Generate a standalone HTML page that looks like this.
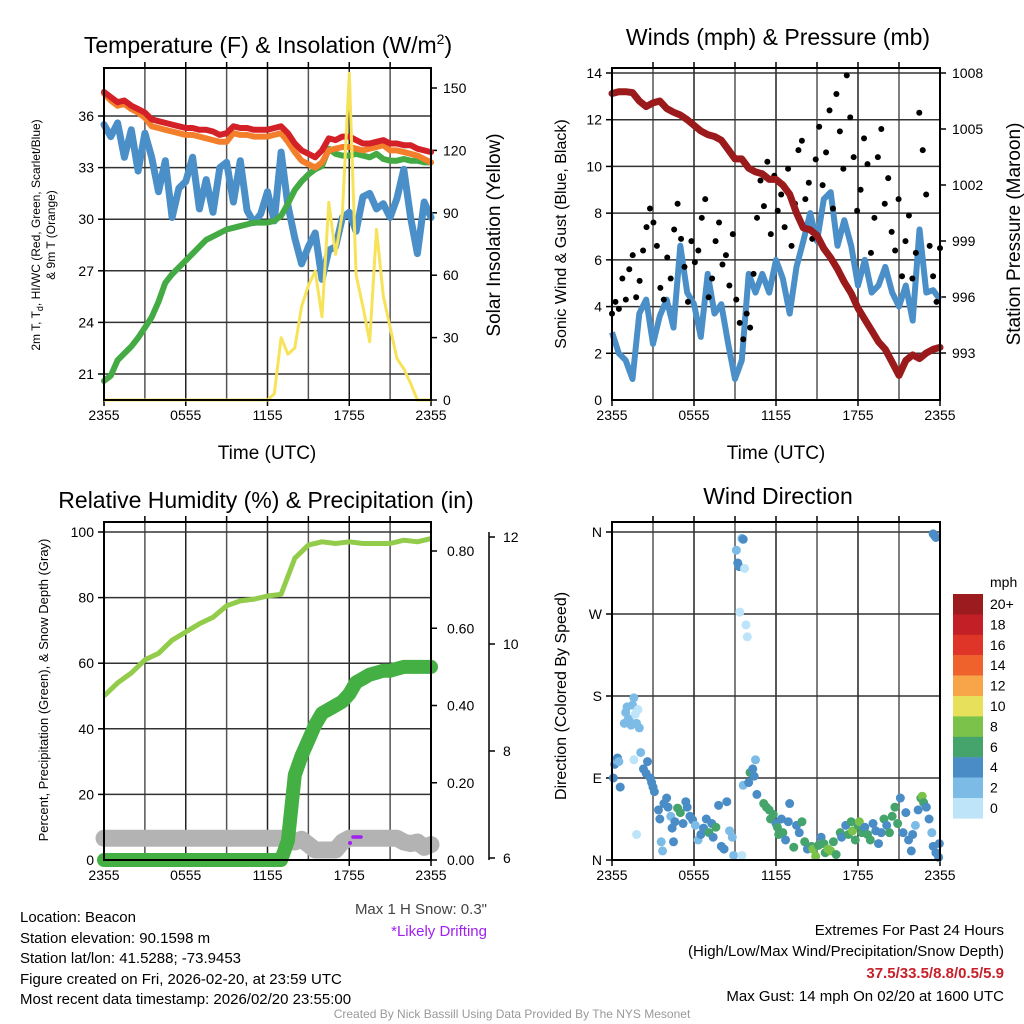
<!DOCTYPE html>
<html><head><meta charset="utf-8"><style>
html,body{margin:0;padding:0;background:#fff;}
svg{display:block;font-family:"Liberation Sans",Arial,sans-serif;}
</style></head><body>
<svg id="fig" width="1024" height="1024" viewBox="0 0 1024 1024" xmlns="http://www.w3.org/2000/svg">
<rect width="1024" height="1024" fill="#fff"/>
<g id="p1"></g>
<g id="p2"></g>
<g id="p3"></g>
<g id="p4"></g>
<g id="txt" font-size="15" fill="#000">
<text x="20" y="922">Location: Beacon</text>
<text x="20" y="943">Station elevation: 90.1598 m</text>
<text x="20" y="963">Station lat/lon: 41.5288; -73.9453</text>
<text x="20" y="984">Figure created on Fri, 2026-02-20, at 23:59 UTC</text>
<text x="20" y="1004">Most recent data timestamp: 2026/02/20 23:55:00</text>
<text x="487" y="914" text-anchor="end" fill="#444">Max 1 H Snow: 0.3"</text>
<text x="487" y="936" text-anchor="end" fill="#a020f0">*Likely Drifting</text>
<text x="1004" y="935" text-anchor="end">Extremes For Past 24 Hours</text>
<text x="1004" y="956" text-anchor="end">(High/Low/Max Wind/Precipitation/Snow Depth)</text>
<text x="1004" y="978" text-anchor="end" fill="#c8202a" font-weight="bold">37.5/33.5/8.8/0.5/5.9</text>
<text x="1004" y="1001" text-anchor="end">Max Gust: 14 mph On 02/20 at 1600 UTC</text>
<text x="512" y="1018" text-anchor="middle" fill="#999" font-size="12">Created By Nick Bassill Using Data Provided By The NYS Mesonet</text>
</g>
</svg>
<script>
// ---------- data (half-hourly, 2355 -> 2355) ----------
const xTickLabels = ["2355","0555","1155","1755","2355"];
const heatIndex = [37.4,37.1,36.8,36.9,36.6,36.4,36.2,35.8,35.7,35.6,35.5,35.4,35.3,35.3,35.2,35.2,35.1,34.9,35.0,35.4,35.3,35.3,35.2,35.2,35.2,35.3,35.4,35.0,34.4,34.0,33.8,33.6,34.0,34.7,34.6,34.8,34.8,34.6,34.4,34.4,34.5,34.6,34.4,34.4,34.3,34.3,34.1,34.0,33.9];
const temp9m = [37.3,36.9,36.6,36.7,36.4,36.2,35.9,35.4,35.3,35.2,35.1,35.0,34.9,34.9,34.8,34.7,34.6,34.5,34.5,35.0,34.9,34.9,34.8,34.8,34.8,34.9,35.0,34.5,33.9,33.4,33.2,33.0,33.3,34.0,34.1,34.2,34.2,34.1,34.0,34.1,34.2,34.3,34.0,34.0,33.9,33.8,33.7,33.5,33.3];
const dewpoint = [20.6,20.9,21.8,22.2,22.6,23.1,23.7,24.3,25.2,26.3,26.8,27.2,27.6,28.0,28.4,28.8,29.0,29.2,29.4,29.5,29.6,29.7,29.8,29.8,29.8,29.9,30.2,30.9,31.7,32.2,32.6,32.9,33.1,34.1,33.8,33.7,33.7,33.8,33.7,33.6,33.8,33.5,33.4,33.4,33.5,33.4,33.4,33.3,33.3];
const windChill = [35.5,34.8,35.6,33.6,35.2,32.8,35.0,33.6,31.6,33.4,30.1,31.8,32.2,33.6,30.6,32.3,30.4,33.0,33.3,31.0,33.4,30.5,29.8,30.3,31.6,29.9,33.9,30.8,28.9,27.4,28.4,29.2,26.5,28.2,28.4,30.1,30.4,29.3,31.3,31.5,30.6,30.9,30.1,31.2,32.9,30.1,28.0,31.0,30.1];
const insolation = [0,0,0,0,0,0,0,0,0,0,0,0,0,0,0,0,0,0,0,0,0,0,0,0,0,3,30,22,25,45,55,62,40,95,70,90,157,60,45,28,82,50,35,20,15,8,0,0,0];
const windSpeed = [2.9,2.0,1.7,0.9,3.7,4.3,2.4,3.6,4.3,3.1,6.6,4.6,4.1,2.7,5.4,3.7,4.1,2.4,0.9,1.7,5.4,4.6,5.4,4.6,6.0,5.2,3.7,5.7,6.8,8.0,6.8,8.6,8.9,6.6,7.7,6.6,4.9,6.0,4.6,4.9,5.7,4.6,4.0,4.9,3.4,7.3,4.6,4.7,4.3];
const pressure = [1006.9,1007.0,1007.0,1006.95,1006.5,1006.2,1006.4,1006.5,1006.1,1005.9,1005.75,1005.5,1005.2,1004.9,1004.7,1004.6,1004.4,1003.9,1003.4,1003.4,1002.9,1002.7,1002.6,1002.3,1002.3,1002.0,1001.5,1000.5,999.7,999.6,999.3,998.6,998.1,997.5,996.8,996.2,995.4,994.8,994.2,993.6,993.2,992.5,991.8,992.6,992.9,992.7,993.0,993.2,993.3];
// quarter-hourly gusts
const gusts = [3.7,4.2,3.9,5.2,4.3,5.6,6.2,4.4,5.1,6.4,7.4,8.2,7.6,6.6,4.8,4.3,6.1,5.2,7.3,8.4,6.9,5.7,4.2,6.8,5.9,6.4,7.8,8.6,4.4,5.2,6.8,7.6,5.8,6.2,4.9,7.1,4.3,3.3,2.6,3.7,3.1,5.4,7.8,9.4,8.3,10.2,7.1,9.6,8.1,8.8,7.4,9.9,6.6,8.4,10.7,11.1,8.6,9.3,6.9,10.3,11.7,9.2,10.6,12.4,8.2,13.1,11.5,9.9,13.9,12.1,10.4,8.1,9.0,11.2,10.1,6.3,7.8,10.4,11.6,8.4,9.5,7.2,6.4,8.6,5.3,6.8,7.9,5.2,6.3,12.3,10.7,8.8,6.6,5.3,4.2,6.5];
const humidity = [50,54,57,61,63,67,69.5,72,74,77.5,79,79.5,80.5,81,92,96,97,96.5,97,96.5,96.5,96.5,97.5,97,98]; // hourly
const precip = [0,0,0,0,0,0,0,0,0,0,0,0,0,0,0,0,0,0,0,0,0,0,0,0,0,0,0,0.05,0.22,0.27,0.31,0.35,0.38,0.39,0.40,0.41,0.43,0.46,0.47,0.48,0.485,0.49,0.49,0.495,0.50,0.50,0.50,0.50,0.50];
const snowDepth = [6.37,6.37,6.37,6.37,6.37,6.37,6.37,6.37,6.37,6.37,6.37,6.37,6.37,6.37,6.37,6.37,6.37,6.37,6.37,6.37,6.37,6.37,6.37,6.37,6.37,6.37,6.37,6.37,6.3,6.35,6.25,6.15,6.15,6.15,6.15,6.3,6.37,6.37,6.37,6.37,6.37,6.37,6.37,6.37,6.3,6.27,6.3,6.2,6.25];
const dirHour = [0.1,0.2,0.3,0.4,0.5,0.6,0.9,1.0,1.1,1.2,1.3,1.4,1.5,1.6,1.7,1.8,1.9,2.0,1.8,1.6,2.1,2.3,2.5,2.6,2.8,2.9,3.0,3.1,3.4,3.5,3.6,3.7,3.8,4.0,4.1,4.3,4.4,4.5,4.6,4.8,5.0,5.2,5.4,5.5,5.7,5.9,6.1,6.3,6.5,6.7,6.9,7.1,7.3,7.4,7.6,7.8,8.0,8.2,8.4,8.6,8.8,8.9,9.1,9.2,9.3,9.35,9.5,9.6,9.7,9.8,9.9,9.5,9.6,10.0,10.1,10.3,10.4,10.5,10.6,11.1,11.3,11.5,11.6,11.8,12.0,12.1,12.2,12.4,12.5,12.7,12.9,13.0,13.3,13.5,13.7,13.9,14.1,14.3,14.6,14.7,14.9,15.1,15.3,15.5,15.6,15.8,16.0,16.2,16.4,16.7,16.8,17.1,17.3,17.5,17.6,17.8,18.0,18.1,18.3,18.5,18.7,18.9,19.1,19.3,19.5,19.7,19.9,20.1,20.3,20.5,20.7,20.9,21.1,21.3,21.5,21.7,21.9,22.0,22.2,22.4,22.6,22.7,22.8,23.0,23.2,23.4,23.5,23.7,23.9,23.95,23.5,23.6,23.7];
const dirDeg = [90,105,110,112,108,80,150,162,168,155,152,148,170,178,160,150,165,145,28,110,118,100,95,108,90,85,80,75,55,45,20,10,62,68,58,48,35,20,42,57,52,40,64,58,48,44,38,22,28,35,45,30,40,25,36,60,15,12,64,32,25,5,340,326,322,272,353,352,320,258,245,5,82,85,96,100,92,110,72,62,58,55,45,50,40,36,28,45,30,22,42,62,14,38,30,42,20,12,15,12,4,16,25,18,8,12,10,20,6,30,25,38,28,42,32,22,38,42,30,36,28,22,40,32,18,30,45,38,30,48,58,40,68,30,52,22,10,28,38,55,68,70,63,58,45,30,15,8,3,18,358,356,354];
const dirSpd = [4,4,3,4,3,4,3,3,2,3,3,3,2,3,1,3,1,3,1,1,3,5,5,4,5,4,5,5,4,5,3,2,4,5,4,3,5,5,4,6,6,5,5,4,5,5,3,2,4,5,4,6,5,4,6,5,5,4,4,3,3,2,3,4,4,1,3,4,1,1,1,1,2,4,6,4,4,3,4,6,6,6,7,6,4,6,7,4,6,4,4,5,6,4,4,7,6,4,6,9,8,7,4,6,7,8,9,6,7,6,5,4,6,7,8,6,7,9,7,5,6,7,5,5,5,4,6,4,6,7,7,6,5,4,5,4,4,5,2,4,6,9,7,4,4,2,4,4,4,4,4,4,4];
const speedBinLabels = ["20+","18","16","14","12","10","8","6","4","2","0"];
const speedBinColors = ["#9b1b1e","#c21f26","#df3428","#f0622c","#f8a54a","#e6e05a","#7bc24a","#44a46c","#4a8dc6","#7cbbe6","#bde4f8"];

// ---------- helpers ----------
const NS="http://www.w3.org/2000/svg";
function mk(parent,tag,attrs,text){const e=document.createElementNS(NS,tag);for(const k in attrs)e.setAttribute(k,attrs[k]);if(text!==undefined)e.textContent=text;parent.appendChild(e);return e;}
function lin(d0,d1,r0,r1){return v=>r0+(v-d0)*(r1-r0)/(d1-d0);}
function poly(arr,xf,yf){return arr.map((v,i)=>xf(i).toFixed(1)+","+yf(v).toFixed(1)).join(" ");}

function frame(g,L,R,T,B,hVals,yf,leftLabels){
  for(let k=1;k<8;k++){const x=L+(R-L)*k/8;
    const ln=mk(g,"line",{x1:x,x2:x,y1:T,y2:B,stroke:k%2?"#555":"#222","stroke-width":1.5});
    
    
    mk(g,"line",{x1:x,x2:x,y1:T-6,y2:T,stroke:"#000","stroke-width":1.5});}
  hVals.forEach((v,i)=>{const y=yf(v);
    const ln=mk(g,"line",{x1:L,x2:R,y1:y,y2:y,stroke:"#333","stroke-width":1.5});
    
    
    mk(g,"line",{x1:L-6,x2:L,y1:y,y2:y,stroke:"#000","stroke-width":1.5});
    const t=mk(g,"text",{x:L-10,y:y+5,"text-anchor":"end","font-size":14},leftLabels[i]);
    
    });
  xTickLabels.forEach((s,i)=>{const x=L+(R-L)*i/4;
    mk(g,"line",{x1:x,x2:x,y1:B,y2:B+6,stroke:"#000","stroke-width":1.5});
    const t=mk(g,"text",{x:x,y:B+20,"text-anchor":"middle","font-size":14},s);
    
    });
}
function box(g,L,R,T,B){const r=mk(g,"rect",{x:L,y:T,width:R-L,height:B-T,fill:"none",stroke:"#000","stroke-width":2});
  
  }
function rightAxis(g,X,vals,yf,labels,off){vals.forEach((v,i)=>{const y=yf(v);
  mk(g,"line",{x1:X,x2:X+6,y1:y,y2:y,stroke:"#000","stroke-width":1.5});
  const t=mk(g,"text",{x:X+(off||12),y:y+5,"font-size":14},labels[i]);
  
  });}
function vlabel(g,x,y,size,txt,name){const t=mk(g,"text",{x:0,y:0,"font-size":size,"text-anchor":"middle",transform:`translate(${x},${y}) rotate(-90)`},txt);
  
  return t;}
function title(g,x,y,txt,name){const t=mk(g,"text",{x:x,y:y,"font-size":23,"text-anchor":"middle"},txt);
  
  return t;}

// ---------- Panel 1 ----------
(function(){
 const g=document.getElementById("p1"),L=104,R=431,T=68,B=400;
 const x=i=>L+(R-L)*i/48, y=lin(36,21,116,374), yr=lin(0,150,400,88);
 frame(g,L,R,T,B,[36,33,30,27,24,21],y,["36","33","30","27","24","21"]);
 rightAxis(g,R,[0,30,60,90,120,150],yr,["0","30","60","90","120","150"]);
 [[windChill,"#4a8fc8",7,"windchill-line"],[dewpoint,"#44aa44",6,"dewpoint-line"],[temp9m,"#f47f2a",6,"temp-9m-line"],[heatIndex,"#d42027",6,"temp-2m-line"]].forEach(s=>{
   const p=mk(g,"polyline",{points:poly(s[0],x,y),fill:"none",stroke:s[1],"stroke-width":s[2],"stroke-linejoin":"round","stroke-linecap":"round"});
   
   });
 const p=mk(g,"polyline",{points:poly(insolation,x,yr),fill:"none",stroke:"#f7e35a","stroke-width":3,"stroke-linejoin":"round"});
 
 
 box(g,L,R,T,B);
 const t=title(g,268,53,"Temperature (F) & Insolation (W/m","chart-title-temperature");
 mk(t,"tspan",{dy:-9,"font-size":14},"2");mk(t,"tspan",{dy:9},")");
 const a=title(g,267,459,"Time (UTC)","x-axis-title");a.setAttribute("font-size",19);
 const l1=vlabel(g,40,235,12,"2m T, T","y-axis-title-left");
 mk(l1,"tspan",{"font-size":9,dy:3},"d");mk(l1,"tspan",{dy:-3},", HI/WC (Red, Green, Scarlet/Blue)");
 vlabel(g,55,235,12,"& 9m T (Orange)","y-axis-title-left-2");
 vlabel(g,500,235,19,"Solar Insolation (Yellow)","y-axis-title-right");
})();

// ---------- Panel 2 ----------
(function(){
 const g=document.getElementById("p2"),L=612,R=940,T=68,B=400;
 const x=i=>L+(R-L)*i/48, xq=i=>L+(R-L)*i/95, y=lin(0,14,400,73), yp=lin(993,1008,353,73);
 frame(g,L,R,T,B,[2,4,6,8,10,12,14],y,["2","4","6","8","10","12","14"]);
 const z=mk(g,"text",{x:L-10,y:405,"text-anchor":"end","font-size":14},"0");
 
 
 rightAxis(g,R,[993,996,999,1002,1005,1008],yp,["993","996","999","1002","1005","1008"]);
 const w=mk(g,"polyline",{points:poly(windSpeed,x,y),fill:"none",stroke:"#4a8fc8","stroke-width":6,"stroke-linejoin":"round"});
 
 
 gusts.forEach((v,i)=>{const c=mk(g,"circle",{cx:xq(i),cy:y(v),r:3,fill:"#000"});
   
   });
 const p=mk(g,"polyline",{points:poly(pressure,x,yp),fill:"none",stroke:"#9b1a1c","stroke-width":7,"stroke-linejoin":"round","stroke-linecap":"round"});
 
 
 box(g,L,R,T,B);
 title(g,778,45,"Winds (mph) & Pressure (mb)","chart-title-winds");
 const a=title(g,776,459,"Time (UTC)","x-axis-title-winds");a.setAttribute("font-size",19);
 vlabel(g,566,234,16,"Sonic Wind & Gust (Blue, Black)","y-axis-title-wind");
 vlabel(g,1020,234,19,"Station Pressure (Maroon)","y-axis-title-pressure");
})();

// ---------- Panel 3 ----------
(function(){
 const g=document.getElementById("p3"),L=104,R=431,T=522,B=860;
 const xh=i=>L+(R-L)*i/24, x=i=>L+(R-L)*i/48, y=lin(0,100,860,532), yp=lin(0,0.8,860,551), ys=lin(6,12,858,537);
 frame(g,L,R,T,B,[0,20,40,60,80,100],y,["0","20","40","60","80","100"]);
 rightAxis(g,R,[0,0.2,0.4,0.6,0.8],yp,["0.00","0.20","0.40","0.60","0.80"],16);
 mk(g,"line",{x1:489,x2:489,y1:532,y2:860,stroke:"#000","stroke-width":1.5});
 [6,8,10,12].forEach(v=>{mk(g,"line",{x1:489,x2:495,y1:ys(v),y2:ys(v),stroke:"#000","stroke-width":1.5});
   const t=mk(g,"text",{x:503,y:ys(v)+5,"font-size":14},String(v));
   
   });
 const s=mk(g,"polyline",{points:poly(snowDepth,x,ys),fill:"none",stroke:"#b3b3b3","stroke-width":17,"stroke-linejoin":"round","stroke-linecap":"round"});
 
 
 const pr=mk(g,"polyline",{points:poly(precip,x,yp),fill:"none",stroke:"#44b044","stroke-width":14,"stroke-linejoin":"round","stroke-linecap":"round"});
 
 
 const h=mk(g,"polyline",{points:poly(humidity,xh,y),fill:"none",stroke:"#92cc4a","stroke-width":5,"stroke-linejoin":"round"});
 
 
 const dr=mk(g,"line",{x1:353,x2:361,y1:837,y2:837,stroke:"#a020f0","stroke-width":3.5,"stroke-linecap":"round"});
 
 
 mk(g,"circle",{cx:350,cy:843,r:2,fill:"#a020f0"});
 box(g,L,R,T,B);
 title(g,266,508,"Relative Humidity (%) & Precipitation (in)","chart-title-humidity");
 vlabel(g,48,690,13,"Percent, Precipitation (Green), & Snow Depth (Gray)","y-axis-title-humidity");
})();

// ---------- Panel 4 ----------
(function(){
 const g=document.getElementById("p4"),L=612,R=940,T=522,B=860;
 const x=lin(0,24,612,940), y=lin(0,360,860,532);
 frame(g,L,R,T,B,[0,90,180,270,360],y,["N","E","S","W","N"]);
 dirHour.forEach((h,i)=>{const b=Math.max(0,Math.min(10,Math.floor(dirSpd[i]/2)));
   const c=mk(g,"circle",{cx:x(h),cy:y(dirDeg[i]),r:4.5,fill:speedBinColors[10-b]});
   
   });
 box(g,L,R,T,B);
 title(g,778,504,"Wind Direction","chart-title-direction");
 vlabel(g,566,696,16,"Direction (Colored By Speed)","y-axis-title-direction");
 const cb=mk(g,"g",{});
 
 
 speedBinLabels.forEach((s,i)=>{const yy=594+i*20.4;
   const r=mk(cb,"rect",{x:953,y:yy,width:30,height:20.6,fill:speedBinColors[i]});
   
   
   const t=mk(cb,"text",{x:990,y:yy+15,"font-size":14},s);
   
   });
 const u=mk(cb,"text",{x:990,y:587,"font-size":14},"mph");
 
 
})();
</script>
</body></html>
